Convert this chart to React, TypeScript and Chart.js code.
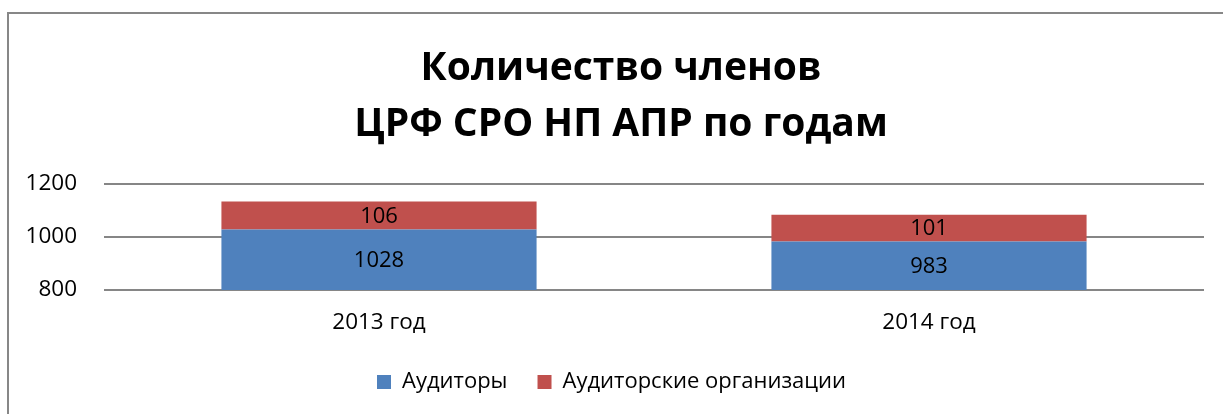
import React, { useEffect, useRef } from "react";
import { Chart, registerables } from "chart.js";

Chart.register(...registerables);

const categories = ["2013 год", "2014 год"];
const auditors = [1028, 983];
const organizations = [106, 101];
const seriesNames = ["Аудиторы", "Аудиторские организации"];
const titleLines = ["Количество членов", "ЦРФ СРО НП АПР по годам"];
const yMin = 800;
const yMax = 1200;
const yStep = 200;

const FONT = "'Open Sans', 'DejaVu Sans', sans-serif";

const borderPlugin = {
  id: "frameBorder",
  beforeDraw(chart: any) {
    const ctx = chart.ctx;
    ctx.save();
    ctx.fillStyle = "#ffffff";
    ctx.fillRect(0, 0, chart.width, chart.height);
    ctx.strokeStyle = "#878787";
    ctx.lineWidth = 2;
    ctx.strokeRect(8, 13, 1400, 600);
    ctx.restore();
  },
};

const titlePlugin = {
  id: "twoLineTitle",
  afterDraw(chart: any) {
    const ctx = chart.ctx;
    ctx.save();
    ctx.font = `bold 39px ${FONT}`;
    ctx.fillStyle = "#000000";
    ctx.textAlign = "center";
    ctx.textBaseline = "alphabetic";
    const baselines = [79.5, 136];
    titleLines.forEach((line, i) => ctx.fillText(line, 621, baselines[i]));
    ctx.restore();
  },
};

const labelPlugin = {
  id: "segLabels",
  afterDatasetsDraw(chart: any) {
    const ctx = chart.ctx;
    const area = chart.chartArea;
    ctx.save();
    ctx.font = `22px ${FONT}`;
    ctx.fillStyle = "#000000";
    ctx.textAlign = "center";
    ctx.textBaseline = "middle";
    chart.data.datasets.forEach((ds: any, di: number) => {
      const meta = chart.getDatasetMeta(di);
      meta.data.forEach((el: any, i: number) => {
        const top = Math.max(el.y, area.top);
        const bottom = Math.min(el.base, area.bottom);
        const y = (top + bottom) / 2;
        ctx.fillText(String(ds.data[i]), el.x, y + 1);
      });
    });
    ctx.restore();
  },
};

export default function App() {
  const ref = useRef<HTMLCanvasElement>(null);
  useEffect(() => {
    if (!ref.current) return;
    const chart = new Chart(ref.current, {
      type: "bar",
      data: {
        labels: categories,
        datasets: [
          {
            label: seriesNames[0],
            data: auditors,
            backgroundColor: "#4F81BD",
            categoryPercentage: 1,
            barPercentage: 0.573,
          },
          {
            label: seriesNames[1],
            data: organizations,
            backgroundColor: "#C0504D",
            categoryPercentage: 1,
            barPercentage: 0.573,
          },
        ],
      },
      options: {
        animation: false,
        responsive: false,
        maintainAspectRatio: false,
        layout: { padding: { left: 0, right: 0, top: 184, bottom: 27 } },
        scales: {
          x: {
            stacked: true,
            grid: { display: false, drawTicks: false },
            border: { display: false },
            ticks: { color: "#000", font: { family: FONT, size: 22.5 }, padding: 19 },
            afterFit(scale: any) {
              scale.height = 51;
            },
          },
          y: {
            stacked: true,
            min: yMin,
            max: yMax,
            ticks: {
              stepSize: yStep,
              color: "#000",
              font: { family: FONT, size: 22.5 },
              padding: 27,
              callback: (v: any) => String(v),
            },
            grid: { color: "#868686", lineWidth: 2, drawTicks: false },
            border: { display: false },
            afterFit(scale: any) {
              scale.width = 104;
            },
          },
          yRight: {
            type: "linear",
            position: "right",
            display: true,
            min: yMin,
            max: yMax,
            ticks: { display: false },
            grid: { display: false, drawTicks: false },
            border: { display: false },
            afterFit(scale: any) {
              scale.width = 19;
            },
          },
        },
        plugins: {
          title: { display: false },
          legend: {
            position: "bottom",
            labels: {
              color: "#000",
              font: { family: FONT, size: 22 },
              boxWidth: 14,
              boxHeight: 14,
              padding: 30,
            },
          },
          tooltip: { enabled: false },
        },
      },
      plugins: [borderPlugin, labelPlugin, titlePlugin],
    });
    return () => chart.destroy();
  }, []);
  return (
    <div style={{ position: "absolute", left: 0, top: 0, width: 1223, height: 414, overflow: "hidden" }}>
      <canvas ref={ref} width={1223} height={430} style={{ width: 1223, height: 430, display: "block" }} />
    </div>
  );
}
